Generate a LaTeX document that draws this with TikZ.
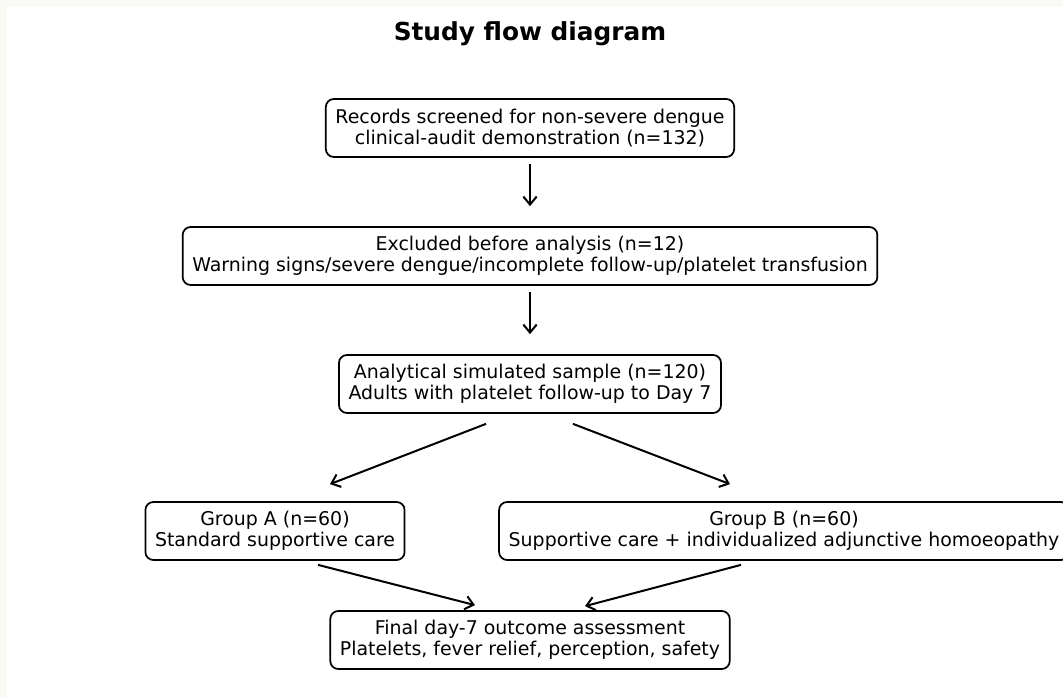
\documentclass[tikz,border=0pt]{standalone}
\usepackage{fontspec}
\setmainfont{DejaVu Sans}
\usetikzlibrary{calc,arrows.meta}
\definecolor{pagebg}{RGB}{249,250,244}
\begin{document}
	\begin{tikzpicture}[x=0.75pt,y=-0.75pt,
		box/.style={draw,line width=1.3pt,rounded corners=6pt,align=center,inner xsep=7.2pt,minimum height=43.5pt,font=\fontsize{14.2}{15.75}\selectfont},
		arr/.style={line width=1.5pt,-{Straight Barb[length=6pt,width=10pt]}}]
		\clip (0,0) rectangle (1063,698);
		\fill[pagebg] (0,0) rectangle (1063,698);
		\fill[white] (7,7) rectangle (1063,698);
		\node[font=\fontsize{18.6}{21}\selectfont\bfseries] (title) at (530,34) {Study flow diagram};
		\node[box] (rec) at (530,128) {Records screened for non-severe dengue\\clinical-audit demonstration (n=132)};
		\node[box] (exc) at (530,256) {Excluded before analysis (n=12)\\Warning signs/severe dengue/incomplete follow-up/platelet transfusion};
		\node[box] (ana) at (530,384) {Analytical simulated sample (n=120)\\Adults with platelet follow-up to Day 7};
		\node[box] (grpA) at (275,531) {Group A (n=60)\\Standard supportive care};
		\node[box] (grpB) at (784,531) {Group B (n=60)\\Supportive care + individualized adjunctive homoeopathy};
		\node[box] (fin) at (530,640) {Final day-7 outcome assessment\\Platelets, fever relief, perception, safety};
		% arrows
		\draw[arr] ($(rec.south)+(0,6)$) -- ($(exc.north)+(0,-20)$);
		\draw[arr] ($(exc.south)+(0,6)$) -- ($(ana.north)+(0,-20)$);
		\draw[arr] ($(ana.south)+(-44,10)$) -- ($(grpA.north)+(55,-17)$);
		\draw[arr] ($(ana.south)+(43,10)$) -- ($(grpB.north)+(-54,-17)$);
		\draw[arr] ($(grpA.south)+(43,4)$) -- ($(fin.north)+(-55,-5)$);
		\draw[arr] ($(grpB.south)+(-43,4)$) -- ($(fin.north)+(55,-4)$);
	\end{tikzpicture}
\end{document}
